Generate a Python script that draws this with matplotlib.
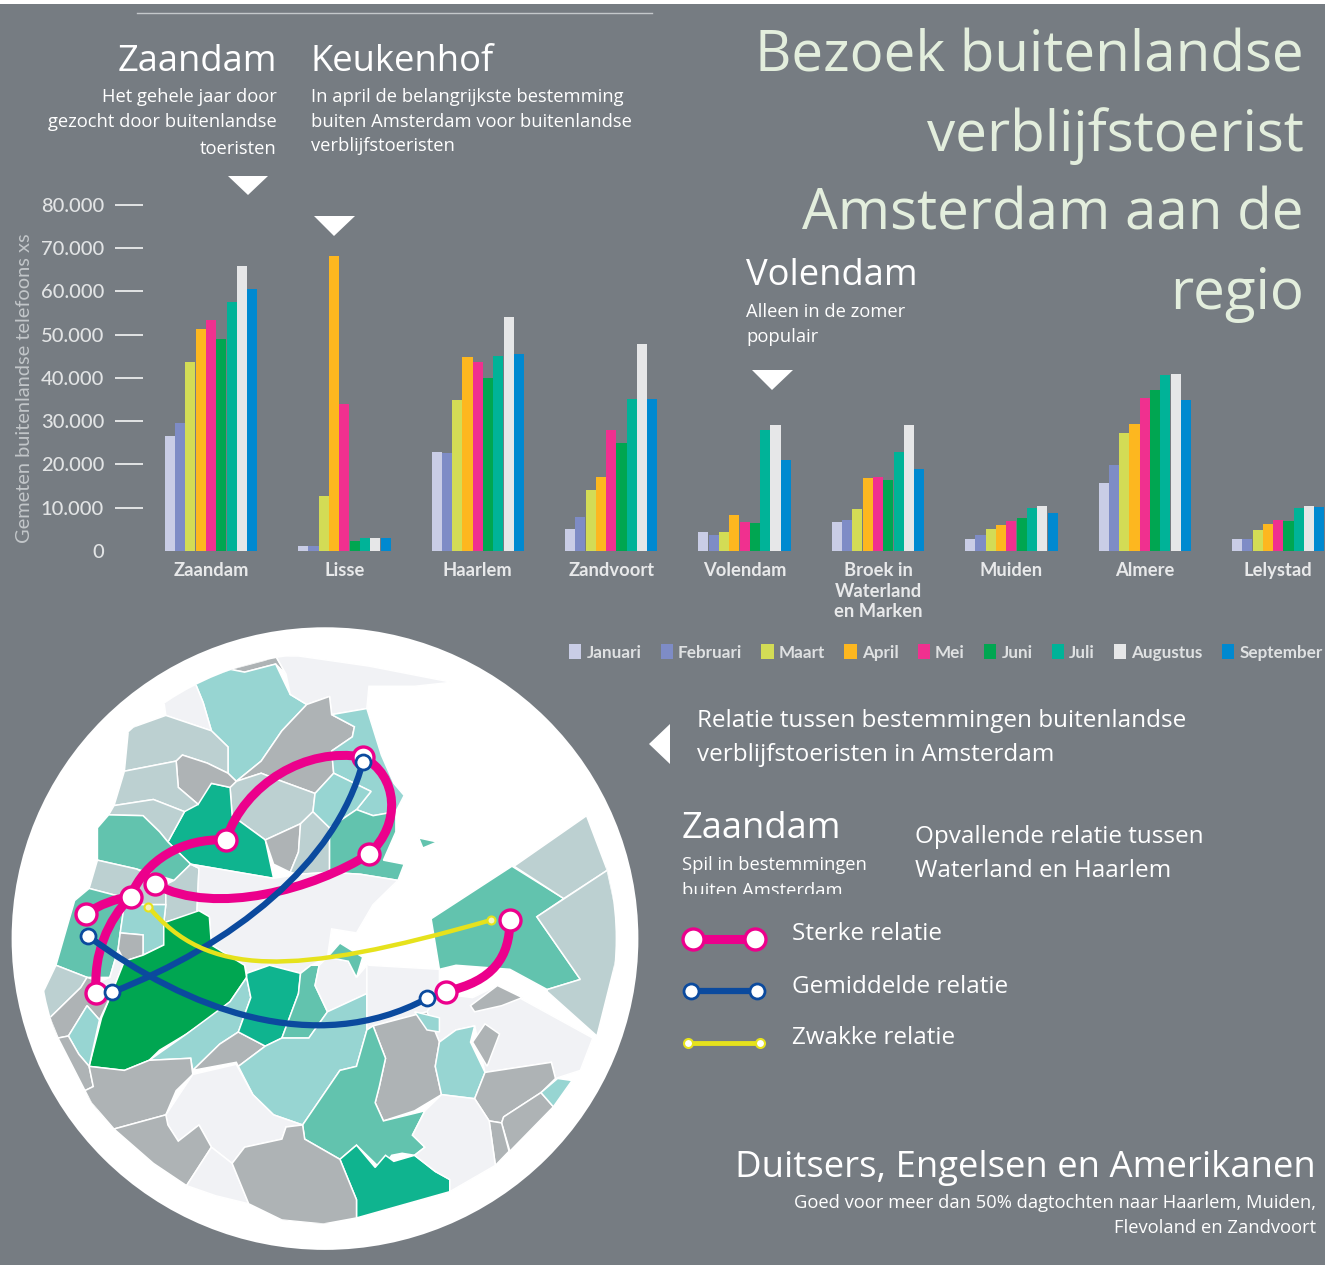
import matplotlib
matplotlib.use("Agg")
import matplotlib.pyplot as plt
import numpy as np
from matplotlib.path import Path
from matplotlib.patches import Ellipse, Polygon, PathPatch, Rectangle

W, H = 1325, 1265
BG = '#767c82'
TEXT_FONT = 'Open Sans'
CHART_FONT = 'Lato'

# bar data (x 1000 phones)
places = ['Zaandam', 'Lisse', 'Haarlem', 'Zandvoort', 'Volendam',
          'Broek in\nWaterland\nen Marken', 'Muiden', 'Almere', 'Lelystad']
months = ['Januari', 'Februari', 'Maart', 'April', 'Mei', 'Juni', 'Juli', 'Augustus', 'September']
month_colors = ['#c9cde6', '#7e8cc6', '#d3dc55', '#fdb71f', '#f0308f', '#00a651', '#00b398', '#e6e7e8', '#0089d0']
januari = [26.5, 1.2, 23.0, 5.0, 4.5, 6.8, 2.8, 15.8, 2.8]
februari = [29.5, 1.2, 22.7, 7.8, 3.8, 7.2, 3.8, 19.8, 2.8]
maart = [43.8, 12.7, 35.0, 14.0, 4.5, 9.8, 5.0, 27.2, 4.8]
april = [51.3, 68.2, 44.8, 17.0, 8.3, 16.8, 6.1, 29.4, 6.2]
mei = [53.5, 34.0, 43.8, 28.0, 6.8, 17.0, 7.0, 35.4, 7.2]
juni = [49.0, 2.2, 40.0, 25.0, 6.5, 16.5, 7.6, 37.2, 7.0]
juli = [57.5, 3.0, 45.0, 35.2, 28.0, 22.8, 10.0, 40.8, 10.0]
augustus = [66.0, 2.9, 54.2, 47.8, 29.2, 29.2, 10.5, 41.0, 10.5]
september = [60.5, 2.9, 45.5, 35.2, 21.0, 19.0, 8.8, 35.0, 10.2]
series = [januari, februari, maart, april, mei, juni, juli, augustus, september]
y_ticks = [0, 10000, 20000, 30000, 40000, 50000, 60000, 70000, 80000]
y_labels = ['0', '10.000', '20.000', '30.000', '40.000', '50.000', '60.000', '70.000', '80.000']

# map regions
LIGHT = '#f1f2f5'
GRAY = '#aeb3b5'
BLUEGRAY = '#bcd0d1'
TEAL1 = '#97d5d2'
TEAL2 = '#62c3ae'
TEAL3 = '#0fb48f'
GREEN = '#00a651'

regions = [
    (GRAY, [(555, 118), (640, 95), (665, 85), (690, 130), (665, 105), (590, 125)]),
    (TEAL1, [(470, 150), (555, 118), (590, 125), (665, 105), (700, 180), (740, 205), (680, 270), (630, 345), (570, 395), (550, 375), (550, 310), (510, 270), (490, 200)]),
    (LIGHT, [(665, 85), (720, 85), (890, 110), (1090, 150), (1000, 160), (890, 160), (885, 215), (800, 230), (795, 185), (740, 205), (700, 180), (690, 130)]),
    (GRAY, [(630, 345), (680, 270), (740, 205), (795, 185), (800, 230), (855, 260), (850, 285), (800, 320), (805, 375), (760, 425), (680, 395), (630, 375), (570, 395)]),
    (BLUEGRAY, [(570, 395), (630, 375), (680, 395), (760, 425), (755, 470), (725, 500), (640, 540), (560, 480), (555, 410)]),
    (TEAL3, [(405, 545), (445, 470), (510, 400), (555, 410), (560, 480), (640, 540), (660, 635), (460, 600)]),
    (GRAY, [(640, 540), (725, 500), (720, 570), (700, 620), (660, 600)]),
    (BLUEGRAY, [(725, 500), (755, 470), (795, 510), (795, 620), (720, 625), (700, 620), (720, 570)]),
    (TEAL1, [(800, 230), (885, 215), (920, 330), (950, 400), (975, 430), (955, 470), (900, 480), (860, 465), (895, 420), (805, 375), (800, 320), (850, 285), (855, 260)]),
    (TEAL1, [(760, 425), (805, 375), (895, 420), (860, 465), (795, 510), (755, 470)]),
    (TEAL2, [(795, 510), (860, 465), (900, 480), (955, 470), (955, 520), (925, 590), (975, 600), (960, 640), (870, 625), (795, 620)]),
    (TEAL2, [(1010, 535), (1055, 545), (1020, 560)]),
    (LIGHT, [(395, 195), (470, 150), (490, 200), (510, 270), (400, 232)]),
    (BLUEGRAY, [(310, 265), (400, 232), (510, 270), (550, 310), (550, 375), (500, 350), (440, 330), (425, 345), (300, 370)]),
    (GRAY, [(425, 345), (440, 330), (500, 350), (550, 375), (570, 395), (555, 410), (510, 400), (478, 452), (430, 410)]),
    (BLUEGRAY, [(300, 370), (425, 345), (430, 410), (478, 452), (445, 470), (370, 440), (275, 455)]),
    (BLUEGRAY, [(275, 455), (370, 440), (445, 470), (405, 545), (385, 520), (345, 480), (262, 478)]),
    (TEAL2, [(235, 510), (262, 478), (345, 480), (385, 520), (405, 545), (460, 600), (420, 640), (330, 612), (235, 590)]),
    (BLUEGRAY, [(215, 660), (235, 590), (330, 612), (400, 650), (400, 700), (300, 700), (290, 680)]),
    (BLUEGRAY, [(420, 640), (460, 600), (480, 610), (475, 720), (395, 745), (400, 700), (400, 650)]),
    (TEAL2, [(135, 850), (180, 690), (215, 660), (290, 680), (300, 700), (290, 770), (285, 810), (265, 880), (210, 880)]),
    (LIGHT, [(285, 810), (300, 840), (265, 930), (245, 920), (240, 890), (265, 880)]),
    (TEAL1, [(290, 770), (300, 700), (400, 700), (395, 745), (395, 800), (345, 825), (345, 775)]),
    (GRAY, [(290, 770), (345, 775), (345, 825), (300, 840), (285, 810)]),
    (LIGHT, [(460, 600), (660, 635), (720, 625), (795, 620), (870, 625), (960, 640), (900, 700), (860, 770), (800, 760), (790, 830), (750, 850), (725, 870), (650, 850), (595, 870), (590, 850), (510, 800), (505, 730), (480, 715), (475, 720), (480, 610)]),
    (GREEN, [(395, 745), (480, 715), (505, 730), (510, 800), (590, 850), (595, 880), (555, 940), (520, 970), (450, 1020), (385, 1060), (360, 1085), (300, 1110), (215, 1100), (245, 980), (265, 930), (300, 840), (345, 825), (395, 800)]),
    (BLUEGRAY, [(100, 925), (135, 850), (210, 880), (195, 905), (120, 980)]),
    (GRAY, [(120, 980), (195, 905), (210, 880), (240, 890), (245, 920), (265, 930), (240, 985), (210, 950), (165, 1025), (140, 1030)]),
    (TEAL1, [(165, 1025), (210, 950), (240, 985), (215, 1100), (190, 1070)]),
    (GRAY, [(140, 1030), (165, 1025), (190, 1070), (215, 1100), (225, 1150), (205, 1160)]),
    (TEAL1, [(360, 1085), (450, 1020), (555, 940), (595, 880), (605, 930), (575, 1015), (530, 1045), (465, 1110), (460, 1080)]),
    (GRAY, [(465, 1110), (530, 1045), (575, 1015), (640, 1050), (575, 1100), (570, 1090)]),
    (TEAL3, [(595, 880), (595, 870), (650, 850), (725, 870), (720, 920), (680, 1030), (640, 1050), (575, 1015), (605, 930)]),
    (TEAL2, [(725, 870), (750, 850), (770, 850), (760, 900), (790, 965), (745, 1030), (680, 1030), (720, 920)]),
    (LIGHT, [(760, 900), (770, 850), (790, 830), (840, 840), (860, 880), (885, 850), (885, 920), (790, 965)]),
    (TEAL2, [(790, 830), (820, 795), (875, 830), (860, 880), (840, 840)]),
    (TEAL1, [(575, 1100), (640, 1050), (680, 1030), (745, 1030), (790, 965), (885, 920), (885, 1010), (860, 1100), (820, 1110), (780, 1170), (730, 1245), (660, 1220), (610, 1170)]),
    (LIGHT, [(875, 830), (890, 850), (1060, 860), (1060, 920), (1030, 965), (900, 1000), (885, 1010), (885, 850)]),
    (LIGHT, [(1030, 965), (1060, 920), (1140, 930), (1200, 900), (1270, 940), (1430, 1030), (1400, 1110), (1340, 1130), (1330, 1090), (1170, 1115), (1145, 1000), (1100, 1010), (1060, 1040)]),
    (GRAY, [(900, 1000), (1030, 965), (1060, 1040), (1050, 1100), (1065, 1170), (1000, 1210), (925, 1235), (905, 1190), (915, 1150), (930, 1080)]),
    (TEAL2, [(885, 1010), (900, 1000), (930, 1080), (915, 1150), (905, 1190), (925, 1235), (1025, 1210), (995, 1270), (1025, 1300), (1000, 1320), (970, 1315), (945, 1320), (920, 1355), (860, 1295), (820, 1330), (735, 1280), (730, 1245), (780, 1170), (820, 1110), (860, 1100)]),
    (TEAL3, [(820, 1330), (860, 1295), (905, 1350), (930, 1320), (950, 1335), (1000, 1320), (1050, 1360), (1085, 1380), (1085, 1410), (860, 1475), (860, 1430)]),
    (TEAL1, [(1060, 1040), (1100, 1010), (1145, 1000), (1135, 1040), (1170, 1115), (1145, 1180), (1065, 1170), (1050, 1100)]),
    (TEAL1, [(1000, 965), (1060, 980), (1060, 1015), (1030, 1010)]),
    (GRAY, [(1140, 1040), (1170, 995), (1205, 1020), (1175, 1100)]),
    (GRAY, [(1135, 950), (1200, 900), (1260, 930), (1210, 950), (1145, 965)]),
    (GRAY, [(1170, 1115), (1330, 1090), (1340, 1130), (1305, 1165), (1215, 1225), (1210, 1240), (1180, 1235), (1145, 1180)]),
    (GRAY, [(1210, 1240), (1215, 1225), (1305, 1165), (1335, 1200), (1230, 1310)]),
    (GRAY, [(1180, 1235), (1210, 1240), (1228, 1310), (1195, 1345)]),
    (TEAL1, [(1305, 1165), (1345, 1130), (1380, 1135), (1335, 1200)]),
    (LIGHT, [(1025, 1210), (1065, 1170), (1145, 1180), (1180, 1235), (1195, 1345), (1085, 1410), (1085, 1380), (1050, 1360), (1000, 1320), (1025, 1300), (995, 1270)]),
    (GRAY, [(205, 1160), (225, 1150), (215, 1100), (300, 1110), (360, 1085), (460, 1080), (465, 1120), (425, 1160), (400, 1220), (275, 1255), (220, 1190)]),
    (LIGHT, [(400, 1220), (465, 1120), (570, 1095), (610, 1170), (660, 1220), (730, 1245), (690, 1250), (680, 1280), (590, 1300), (560, 1340), (510, 1300), (480, 1245), (430, 1285), (405, 1245)]),
    (GRAY, [(275, 1255), (400, 1220), (405, 1245), (430, 1285), (480, 1245), (510, 1300), (450, 1395), (370, 1340)]),
    (LIGHT, [(450, 1395), (510, 1300), (560, 1340), (600, 1440), (520, 1420)]),
    (GRAY, [(730, 1245), (735, 1280), (820, 1330), (860, 1430), (860, 1475), (780, 1490), (680, 1480), (600, 1440), (560, 1340), (590, 1300), (680, 1280), (690, 1250)]),
    (TEAL2, [(1040, 735), (1235, 605), (1360, 685), (1295, 730), (1400, 885), (1320, 910), (1230, 860), (1100, 850), (1060, 860)]),
    (BLUEGRAY, [(1240, 605), (1415, 480), (1465, 615), (1360, 685)]),
    (BLUEGRAY, [(1295, 730), (1465, 615), (1500, 780), (1440, 1025), (1320, 915), (1320, 910), (1400, 885)]),
]

# relations on the map: bezier control points
strong_routes = [
    [(545, 540), (590, 400), (740, 310), (875, 335)],
    [(875, 335), (960, 380), (970, 500), (890, 575)],
    [(890, 575), (760, 660), (520, 730), (375, 650)],
    [(545, 540), (440, 535), (350, 590), (315, 680)],
    [(315, 680), (260, 740), (225, 820), (232, 918)],
    [(208, 722), (240, 700), (280, 685), (315, 680)],
    [(1230, 738), (1230, 830), (1190, 890), (1075, 915)],
]
medium_routes = [
    [(875, 348), (810, 600), (560, 800), (270, 917)],
    [(212, 777), (450, 960), (760, 1080), (1030, 932)],
]
weak_routes = [
    [(358, 705), (500, 880), (700, 880), (1185, 738)],
]
strong_nodes = [(545, 540), (875, 335), (890, 575), (375, 650), (315, 680), (208, 722), (232, 918), (1230, 738), (1075, 915)]
medium_nodes = [(875, 348), (270, 917), (212, 777), (1030, 932)]
weak_nodes = [(358, 705), (1185, 738)]

PINK = '#ec008c'
BLUE = '#0b4a9e'
YELLOW = '#e6e21c'


def px_axes(fig, left, top, right, bottom):
    return fig.add_axes([left / W, 1 - bottom / H, (right - left) / W, (bottom - top) / H])


def d2s(d):
    return (d * 0.72) ** 2


fig = plt.figure(figsize=(W / 100, H / 100), dpi=100, facecolor=BG)

# bars
ax = px_axes(fig, 143, 205, W, 551)
ax.set_facecolor('none')
pitch = 133.4
ax.set_xlim((143 - 211) / pitch, (W - 211) / pitch)
ax.set_ylim(0, 80000)
x = np.arange(len(places))
bar_w = 10.3 / pitch
for i, vals in enumerate(series):
    ax.bar(x + (i - 4) * bar_w, np.array(vals) * 1000, bar_w * 0.98, color=month_colors[i], label=months[i])
for s in ax.spines.values():
    s.set_visible(False)
ax.set_yticks(y_ticks)
ax.set_yticklabels(y_labels, fontfamily=CHART_FONT, fontsize=14.5, fontweight='medium', color='#e2e4e5')
ax.tick_params(axis='y', length=20, width=1.4, color='#e2e4e5', pad=8)
ax.yaxis.get_major_ticks()[0].tick1line.set_visible(False)
ax.set_xticks(x)
ax.set_xticklabels(places, fontfamily=CHART_FONT, fontsize=13.2, fontweight='bold', color='#e8e9ea', linespacing=1.25)
ax.tick_params(axis='x', length=0, pad=8)
ax.set_ylabel('Gemeten buitenlandse telefoons xs', fontfamily=CHART_FONT, fontsize=14.4, color='#c2c6c9')
ax.yaxis.set_label_coords((33 - 143) / (W - 143), 0.47)
leg = ax.legend(ncol=9, loc='upper left', bbox_to_anchor=((569 - 143) / (W - 143), -0.27), frameon=False,
                handlelength=0.72, handleheight=0.95, handletextpad=0.3, columnspacing=1.12, borderpad=0, borderaxespad=0,
                prop={'family': CHART_FONT, 'size': 12.3, 'weight': 'bold'})
for t in leg.get_texts():
    t.set_color('#dfe1e2')

# map
mp = px_axes(fig, 0, 620, 650, 1260)
mp.set_xlim(0, 1568)
mp.set_ylim(1579, -4)
mp.axis('off')
mp.add_patch(Ellipse((784, 784), 1512, 1540, fc='white', ec='none'))
clip = Ellipse((790, 784), 1390, 1410, transform=mp.transData)
for color, pts in regions:
    p = Polygon(pts, closed=True, fc=color, ec='white', lw=1.1)
    mp.add_patch(p)
    p.set_clip_path(clip)


def draw_routes(routes, color, lw):
    for r in routes:
        path = Path(r, [Path.MOVETO, Path.CURVE4, Path.CURVE4, Path.CURVE4])
        mp.add_patch(PathPatch(path, fc='none', ec=color, lw=lw, capstyle='round'))


draw_routes(strong_routes, PINK, 6.5)
draw_routes(medium_routes, BLUE, 4.5)
draw_routes(weak_routes, YELLOW, 3.2)
mp.scatter(*zip(*strong_nodes), s=d2s(21), fc='white', ec=PINK, lw=2.4, zorder=5)
mp.scatter(*zip(*medium_nodes), s=d2s(15), fc='white', ec=BLUE, lw=2, zorder=6)
mp.scatter(*zip(*weak_nodes), s=d2s(8), fc='#f5f5c0', ec=YELLOW, lw=1.5, zorder=6)

# overlay in pixels for texts and pointers
ov = fig.add_axes([0, 0, 1, 1], facecolor='none')
ov.set_xlim(0, W)
ov.set_ylim(H, 0)
ov.axis('off')
ov.add_patch(Rectangle((0, 0), W, 4, fc='white', ec='none'))
ov.plot([137, 652], [12.5, 12.5], color='#c4c8cb', lw=1)

for tri in ([(228, 176), (268, 176), (248, 195)], [(314, 216), (355, 216), (334, 236)],
            [(752, 370), (793, 370), (772, 390)], [(670, 724), (670, 764), (649, 744)]):
    ov.add_patch(Polygon(tri, closed=True, fc='white', ec='none'))


def label(x, y, s, size, ha='left', color='white'):
    return ov.text(x, y, s, fontsize=size, ha=ha, va='baseline', color=color, fontfamily=TEXT_FONT)


TITLE = '#e3eedd'
for y, s in zip([72, 151, 230, 309], ['Bezoek buitenlandse', 'verblijfstoerist', 'Amsterdam aan de', 'regio']):
    label(1304, y, s, 40.7, 'right', TITLE)

label(277, 71, 'Zaandam', 26.2, 'right')
for y, s in zip([102, 127, 154], ['Het gehele jaar door', 'gezocht door buitenlandse', 'toeristen']):
    label(277, y, s, 13.2, 'right')
label(311, 71, 'Keukenhof', 26.2)
for y, s in zip([102, 127, 151], ['In april de belangrijkste bestemming', 'buiten Amsterdam voor buitenlandse', 'verblijfstoeristen']):
    label(311, y, s, 13.2)
label(746, 285, 'Volendam', 26.2)
label(746, 317, 'Alleen in de zomer', 13.2)
label(746, 342, 'populair', 13.2)

label(697, 727, 'Relatie tussen bestemmingen buitenlandse', 17.5)
label(697, 761, 'verblijfstoeristen in Amsterdam', 17.5)
label(682, 838, 'Zaandam', 26.2)
label(682, 870, 'Spil in bestemmingen', 13.2)
cut = label(682, 896, 'buiten Amsterdam', 13.2)
cut.set_clip_on(True)
cut.set_clip_path(Rectangle((670, 870), 300, 24, transform=ov.transData))
label(915, 843, 'Opvallende relatie tussen', 17.5)
label(915, 877, 'Waterland en Haarlem', 17.5)

# relation key
key_rows = [(939, PINK, 6.5, 21, 2.4, 'Sterke relatie', 940, 693, 755),
            (991, BLUE, 4.5, 15, 2, 'Gemiddelde relatie', 993, 691, 757),
            (1043, YELLOW, 3.5, 9, 1.5, 'Zwakke relatie', 1044, 688, 760)]
for y, col, lw, d, edge, s, base, x0, x1 in key_rows:
    ov.plot([x0, x1], [y, y], color=col, lw=lw, solid_capstyle='butt')
    ov.scatter([x0, x1], [y, y], s=d2s(d), fc='white', ec=col, lw=edge, zorder=5)
    label(792, base, s, 17.5)

label(1316, 1177, 'Duitsers, Engelsen en Amerikanen', 26.3, 'right')
label(1316, 1208, 'Goed voor meer dan 50% dagtochten naar Haarlem, Muiden,', 13.2, 'right')
label(1316, 1233, 'Flevoland en Zandvoort', 13.2, 'right')

fig.savefig('out.png', dpi=100, facecolor=BG)
